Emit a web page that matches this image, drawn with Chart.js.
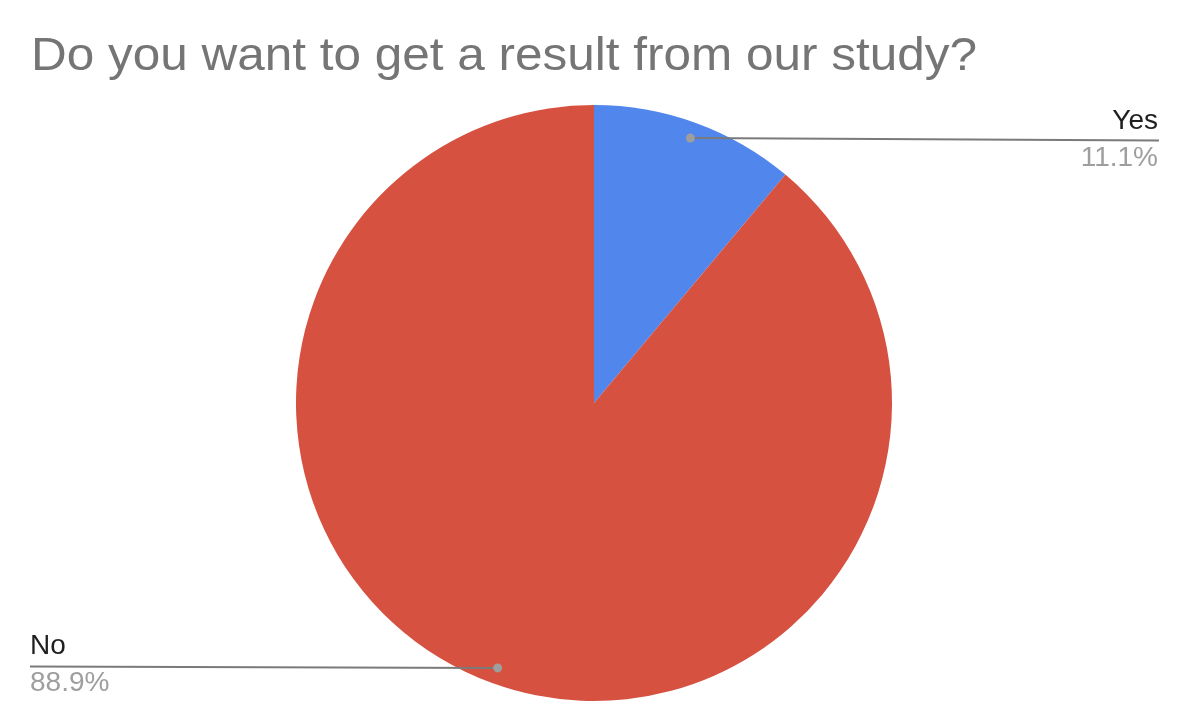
<!DOCTYPE html>
<html>
<head>
<meta charset="utf-8">
<script src="https://cdn.jsdelivr.net/npm/chart.js@4.4.0/dist/chart.umd.min.js"></script>
<style>
  html, body { margin: 0; padding: 0; background: #fff; }
  #wrap { width: 1192px; height: 726px; position: relative; }
</style>
</head>
<body>
<div id="wrap"><canvas id="c" width="1192" height="726"></canvas></div>
<script>
const titleText = "Do you want to get a result from our study?";
const categories = ["Yes", "No"];
const values = [11.1, 88.9];
const colors = ["#5186ec", "#d65140"];

const FONT = '"Liberation Sans", Arial, Helvetica, sans-serif';

const calloutPlugin = {
  id: 'callouts',
  afterDraw(chart) {
    const ctx = chart.ctx;
    // title
    ctx.save();
    ctx.fillStyle = '#757575';
    ctx.font = '47px ' + FONT;
    ctx.textAlign = 'left';
    ctx.textBaseline = 'alphabetic';
    const w = ctx.measureText(titleText).width;
    const target = 946;
    ctx.translate(31, 70);
    ctx.scale(target / w, 1);
    ctx.fillText(titleText, 0, 0);
    ctx.restore();

    const meta = chart.getDatasetMeta(0);
    const total = values.reduce((a, b) => a + b, 0);
    meta.data.forEach((arc, i) => {
      const p = arc.getProps(['x', 'y', 'startAngle', 'endAngle', 'outerRadius'], true);
      const mid = (p.startAngle + p.endAngle) / 2;
      const r = p.outerRadius * 0.946;
      const dx = p.x + Math.cos(mid) * r;
      const dy = p.y + Math.sin(mid) * r;
      const right = Math.cos(mid) >= 0;
      const endX = right ? 1159 : 30;
      const endY = right ? dy + 2.5 : dy - 1.5;
      ctx.save();
      ctx.strokeStyle = '#7a7a7a';
      ctx.lineWidth = 2;
      ctx.beginPath();
      ctx.moveTo(dx, dy);
      ctx.lineTo(endX, endY);
      ctx.stroke();
      ctx.fillStyle = '#9e9e9e';
      ctx.beginPath();
      ctx.arc(dx, dy, 4.5, 0, Math.PI * 2);
      ctx.fill();
      ctx.font = '28px ' + FONT;
      ctx.textAlign = right ? 'right' : 'left';
      ctx.textBaseline = 'alphabetic';
      ctx.fillStyle = '#1f1f1f';
      ctx.fillText(categories[i], right ? 1158 : 30, endY - 12);
      ctx.fillStyle = '#9e9e9e';
      const pct = (values[i] / total * 100).toFixed(1) + '%';
      ctx.fillText(pct, right ? 1158 : 30, endY + 25);
      ctx.restore();
    });
  }
};

new Chart(document.getElementById('c'), {
  type: 'pie',
  data: {
    labels: categories,
    datasets: [{
      data: values,
      backgroundColor: colors,
      borderWidth: 0,
      hoverOffset: 0
    }]
  },
  options: {
    responsive: false,
    animation: false,
    layout: { padding: { top: 105, bottom: 25, left: 0, right: 4 } },
    plugins: {
      legend: { display: false },
      tooltip: { enabled: false },
      title: { display: false }
    }
  },
  plugins: [calloutPlugin]
});
</script>
</body>
</html>
